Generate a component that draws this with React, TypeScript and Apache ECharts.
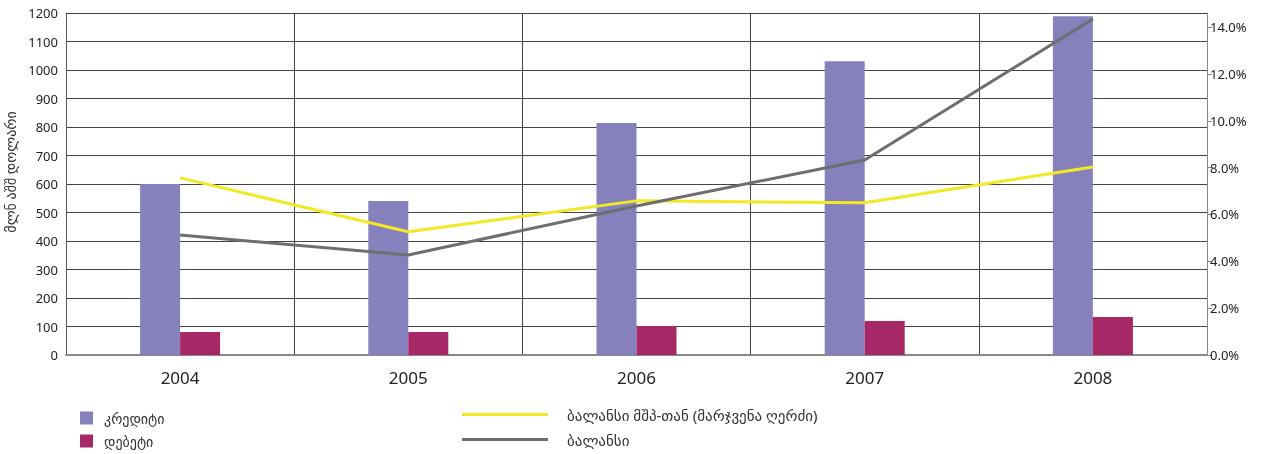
import React, { useEffect, useRef } from "react";
import * as echarts from "echarts";

const years = ["2004", "2005", "2006", "2007", "2008"];
const credit = [600, 540, 814, 1031, 1189];
const debit = [81, 81, 102, 119, 133];
const balance = [421, 351, 523, 684, 1179];
const balanceGdp = [7.56, 5.26, 6.58, 6.5, 8.03];
const rightTicks = [0, 2, 4, 6, 8, 10, 12, 14];

const FONT = "'Noto Sans', 'DejaVu Sans', sans-serif";

export default function App() {
  const ref = useRef<HTMLDivElement>(null);
  useEffect(() => {
    if (!ref.current) return;
    const chart = echarts.init(ref.current, null, { renderer: "svg" });
    chart.setOption({
      animation: false,
      textStyle: { fontFamily: FONT },
      grid: { left: 66, right: 59, top: 13, bottom: 99, containLabel: false, outerBoundsMode: "none" },
      legend: [
        {
          data: ["კრედიტი", "დებეტი"],
          orient: "vertical",
          left: 80,
          top: 411,
          height: 80,
          padding: 0,
          itemWidth: 13,
          itemHeight: 13,
          itemGap: 9,
          icon: "rect",
          textStyle: { fontSize: 14, lineHeight: 14, color: "#333", fontFamily: FONT, padding: [0, 0, 0, 6] },
        },
        {
          data: ["ბალანსი მშპ-თან (მარჯვენა ღერძი)", "ბალანსი"],
          orient: "vertical",
          left: 462,
          top: 407,
          height: 80,
          padding: 0,
          itemWidth: 86,
          itemHeight: 3,
          itemGap: 10,
          icon: "rect",
          textStyle: { fontSize: 15, lineHeight: 14, color: "#333", fontFamily: FONT, padding: [0, 0, 0, 14] },
        },
      ],
      xAxis: {
        type: "category",
        data: years,
        boundaryGap: true,
        axisLine: { show: true, lineStyle: { color: "#888", width: 2 } },
        axisTick: { show: false },
        axisLabel: { fontSize: 17, color: "#222", margin: 14, fontFamily: FONT },
        splitLine: { show: true, lineStyle: { color: "#444", width: 1 } },
      },
      yAxis: [
        {
          type: "value",
          min: 0,
          max: 1200,
          interval: 100,
          name: "მლნ აშშ დოლარი",
          nameLocation: "middle",
          nameGap: 39,
          nameRotate: 90,
          nameTextStyle: { fontSize: 14, color: "#333", fontFamily: FONT, padding: [0, 0, 0, 24] },
          axisLine: { show: true, lineStyle: { color: "#555", width: 1 } },
          axisTick: { show: false },
          axisLabel: {
            fontSize: 13,
            color: "#222",
            margin: 8,
            fontFamily: FONT,
            formatter: (v: number) => String(v),
          },
          splitLine: { show: true, lineStyle: { color: "#444", width: 1 } },
        },
        {
          type: "value",
          min: 0,
          max: 14.6,
          interval: 2,
          position: "right",
          axisLine: { show: true, lineStyle: { color: "#888", width: 1 } },
          axisTick: { show: true, length: 5, inside: false, lineStyle: { color: "#888" }, customValues: rightTicks },
          axisLabel: {
            fontSize: 13,
            color: "#222",
            margin: 3,
            fontFamily: FONT,
            customValues: rightTicks,
            formatter: (v: number) => v.toFixed(1) + "%",
          },
          splitLine: { show: false },
        },
      ],
      series: [
        {
          name: "კრედიტი",
          type: "bar",
          data: credit,
          barWidth: 40,
          barGap: "0%",
          itemStyle: { color: "#8681BD" },
        },
        {
          name: "დებეტი",
          type: "bar",
          data: debit,
          barWidth: 40,
          barGap: "0%",
          itemStyle: { color: "#A62866" },
        },
        {
          name: "ბალანსი მშპ-თან (მარჯვენა ღერძი)",
          type: "line",
          yAxisIndex: 1,
          data: balanceGdp,
          symbol: "none",
          lineStyle: { color: "#F2E824", width: 3 },
          itemStyle: { color: "#F2E824" },
        },
        {
          name: "ბალანსი",
          type: "line",
          yAxisIndex: 0,
          data: balance,
          symbol: "none",
          lineStyle: { color: "#6E6E6E", width: 3 },
          itemStyle: { color: "#6E6E6E" },
        },
      ],
    });
    return () => chart.dispose();
  }, []);
  return (
    <div
      ref={ref}
      style={{ position: "fixed", left: 0, top: 0, width: 1266, height: 454 }}
    />
  );
}
